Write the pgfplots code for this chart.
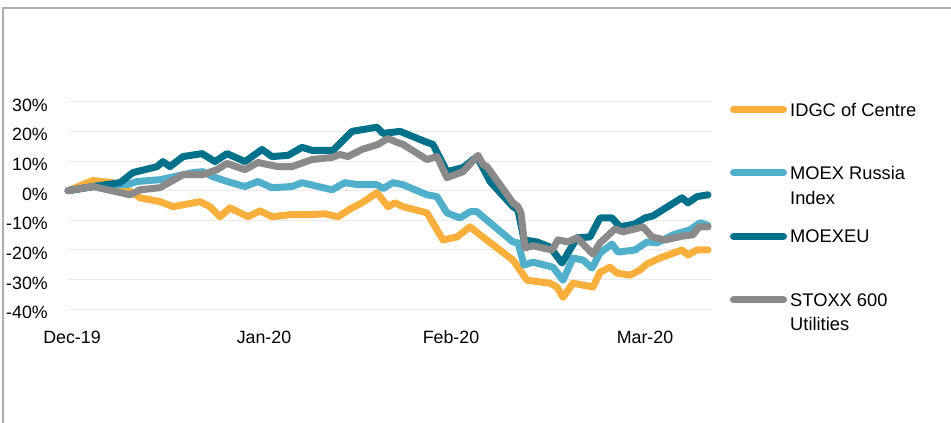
\documentclass[border=0pt]{standalone}
\usepackage{pgfplots}
\pgfplotsset{compat=1.18}
\usepackage{fontspec}
\setmainfont{Liberation Sans}
\definecolor{idgc}{HTML}{F9AF3C}
\definecolor{moexr}{HTML}{50AFCB}
\definecolor{moexeu}{HTML}{00718B}
\definecolor{stoxx}{HTML}{8A8A8A}
\definecolor{gridgray}{HTML}{EAEAEA}
\definecolor{bordergray}{HTML}{AAAEB3}
\newcommand{\legfont}{\fontsize{18.3}{22}\selectfont}
\begin{document}
\begin{tikzpicture}[x=1pt,y=1pt]
\path[use as bounding box] (0,0) rectangle (951,423);
\draw[bordergray, line width=2.2pt] (3,0) -- (3,415.3) -- (951,415.3);
\begin{axis}[
  at={(68pt,113.7pt)}, anchor=south west,
  scale only axis, width=644pt, height=207.6pt,
  xmin=68, xmax=712, ymin=-40, ymax=30,
  clip=false,
  axis line style={draw=none},
  tick style={draw=none},
  major tick length=0pt,
  ytick={-40,-30,-20,-10,0,10,20,30},
  yticklabels={-40\%,-30\%,-20\%,-10\%,0\%,10\%,20\%,30\%},
  xtick={72,264,451,645},
  xticklabels={Dec-19,Jan-20,Feb-20,Mar-20},
  ymajorgrids,
  grid style={gridgray, line width=1pt},
  tick label style={font=\fontsize{17.8}{21}\selectfont, text=black},
  yticklabel style={anchor=east, inner sep=0pt, xshift=-20pt, yshift=-3.5pt},
  xticklabel style={anchor=base, inner sep=0pt, yshift=-34pt},
  every axis plot/.append style={line width=7pt, line cap=round, line join=round},
]
\addplot[idgc] coordinates {
(68,0) (93,3.4) (113,2.7) (133,-0.7) (140,-2.4) (160,-3.7) (173,-5.4) (200,-3.7)
(210,-5.4) (220,-8.8) (230,-5.8) (248,-8.8) (260,-6.8) (272,-8.8) (290,-8.1)
(308,-8.1) (325,-7.8) (338,-8.8) (352,-5.8) (362,-4.1) (377,-0.7) (388,-5.4)
(395,-4.1) (403,-5.4) (427,-7.5) (443,-16.6) (457,-15.6) (470,-12.2) (480,-14.9)
(513,-23.4) (520,-26.8) (527,-30.2) (550,-31.2) (557,-32.5) (563,-36.0) (573,-31.2)
(593,-32.5) (600,-27.5) (610,-25.8) (617,-27.8) (630,-28.5) (640,-26.8) (647,-24.7)
(660,-22.7) (682,-20.0) (688,-21.7) (697,-20.0) (708,-20.0)
};
\addplot[moexr] coordinates {
(68,0) (107,2.0) (127,2.0) (137,3.1) (160,3.7) (193,6.1) (203,6.4) (213,4.7)
(227,3.1) (245,1.4) (258,3.1) (272,1.0) (292,1.4) (302,2.7) (332,0.3) (345,2.7)
(358,2.0) (377,2.0) (383,0.7) (393,2.7) (403,2.0) (427,-1.4) (437,-2.0) (447,-7.5)
(460,-9.2) (470,-7.1) (477,-7.1) (490,-10.8) (513,-17.3) (518,-17.6) (524,-25.1)
(533,-24.1) (553,-25.8) (563,-30.2) (573,-22.7) (583,-23.4) (592,-26.1) (600,-21.0)
(612,-18.0) (618,-20.7) (635,-20.0) (647,-17.3) (657,-17.6) (673,-14.9) (690,-13.2)
(700,-10.8) (708,-11.7)
};
\addplot[moexeu] coordinates {
(68,0) (93,1.4) (120,2.7) (133,6.1) (157,8.1) (163,9.8) (170,8.1) (183,11.5)
(202,12.5) (215,9.8) (227,12.5) (245,9.8) (262,13.9) (272,11.5) (288,11.9) (302,14.6)
(312,13.6) (333,13.6) (352,20.0) (377,21.4) (383,19.3) (400,20.0) (427,16.3)
(433,15.6) (447,6.4) (463,7.8) (477,11.5) (490,3.1) (513,-5.4) (518,-6.5)
(524,-16.6) (537,-17.3) (550,-19.0) (562,-24.4) (577,-15.9) (590,-15.6) (600,-9.2)
(612,-9.2) (620,-12.2) (635,-11.2) (645,-9.2) (653,-8.5) (682,-2.4) (688,-4.1)
(697,-2.0) (708,-1.4)
};
\addplot[stoxx] coordinates {
(68,0) (93,1.4) (130,-1.4) (140,0.3) (160,1.0) (183,5.4) (203,5.4) (217,7.1)
(227,9.2) (245,7.1) (258,9.5) (278,8.1) (292,8.1) (312,10.5) (332,11.2) (340,12.2)
(348,11.5) (362,13.9) (378,15.6) (388,17.6) (397,16.3) (403,15.6) (427,10.5)
(437,11.5) (447,4.4) (463,6.4) (478,11.9) (483,8.8) (487,8.1) (513,-4.1) (518,-5.4)
(521,-7.5) (525,-19.3) (533,-18.6) (552,-20.0) (558,-16.6) (568,-17.3) (577,-15.9)
(593,-21.4) (600,-17.6) (615,-12.9) (623,-13.9) (643,-12.2) (652,-15.6) (665,-16.6)
(683,-15.3) (693,-14.9) (699,-12.2) (708,-12.2)
};
\end{axis}
% legend
\draw[idgc, line width=7pt, line cap=round] (733.5,313.3) -- (783.5,313.3);
\node[anchor=base west, inner sep=0pt, font=\legfont] at (790,306) {IDGC of Centre};
\draw[moexr, line width=7pt, line cap=round] (733.5,250) -- (783.5,250);
\node[anchor=base west, inner sep=0pt, font=\legfont] at (790,243) {MOEX Russia};
\node[anchor=base west, inner sep=0pt, font=\legfont] at (790,218) {Index};
\draw[moexeu, line width=7pt, line cap=round] (733.5,186.7) -- (783.5,186.7);
\node[anchor=base west, inner sep=0pt, font=\legfont] at (790,180) {MOEXEU};
\draw[stoxx, line width=7pt, line cap=round] (733.5,123) -- (783.5,123);
\node[anchor=base west, inner sep=0pt, font=\legfont] at (790,116) {STOXX 600};
\node[anchor=base west, inner sep=0pt, font=\legfont] at (790,92) {Utilities};
\end{tikzpicture}
\end{document}
